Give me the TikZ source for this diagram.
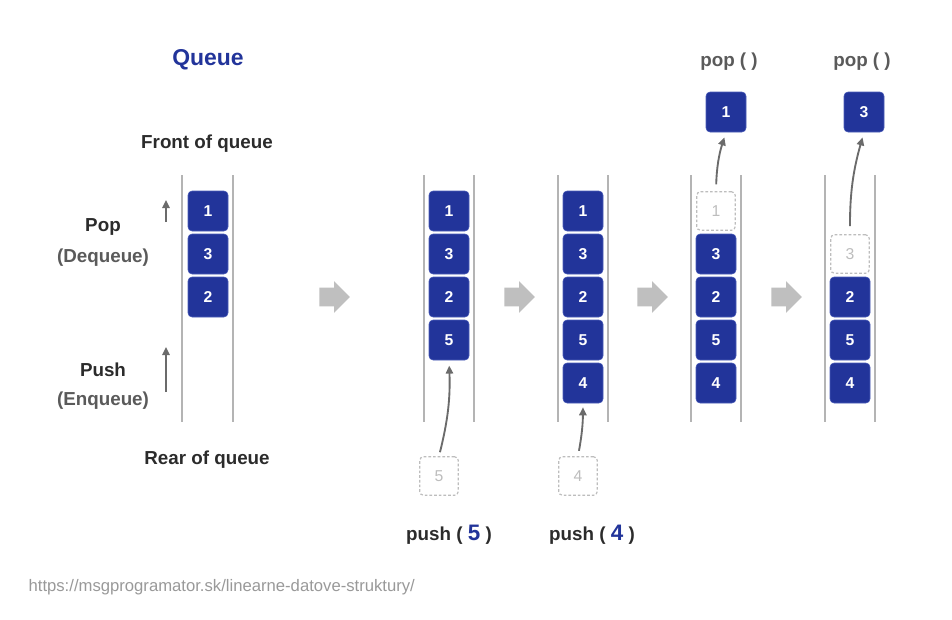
\documentclass[tikz,border=0pt]{standalone}
\usepackage{fontspec}
\setmainfont{Liberation Sans}
\usetikzlibrary{arrows.meta,shapes.arrows}
\definecolor{qblue}{HTML}{22349A}
\definecolor{qedge}{HTML}{4A5CB8}
\definecolor{qtext}{HTML}{2B2B2B}
\definecolor{qgrey}{HTML}{5A5A5A}
\definecolor{qrail}{HTML}{B4B4B4}
\definecolor{qghost}{HTML}{BDBDBD}

\begin{document}
\begin{tikzpicture}[x=0.75pt, y=-0.75pt]
				\tikzstyle{every node}=[inner sep=1pt, align=center, font=\bfseries\fontsize{14.1}{16}\selectfont, text=qtext]
				\tikzstyle{item}=[draw=qedge, fill=qblue, rounded corners=3pt, minimum width=30pt, minimum height=30pt, text=white, font=\bfseries\fontsize{11.8}{13}\selectfont]
				\tikzstyle{ghost}=[draw=qghost, dash pattern=on 2pt off 1.5pt, line width=0.9pt, fill=white, rounded corners=3pt, minimum width=29pt, minimum height=29pt, text=qghost, font=\fontsize{11.8}{13}\selectfont]
				\tikzstyle{rail}=[draw=qrail, line width=1.3pt]
				\tikzstyle{move}=[draw=qgrey!90, line width=1.4pt, -{Triangle[length=6pt, width=5.5pt]}]
				\tikzstyle{next}=[single arrow, fill=qrail!85, minimum height=23pt, minimum width=0pt, inner xsep=0pt, inner ysep=6.75pt, single arrow head extend=5pt]
				\useasboundingbox (0,0) rectangle (952,619);
				% labels on the left
				\node (title) at (208,60) {\color{qblue}\fontsize{17.2}{19}\selectfont Queue};
				\node (front) at (207,144) {Front of queue};
				\node (rear) at (207,460) {Rear of queue};
				\node (pop) at (103,227) {Pop};
				\node (deq) at (103,258) {\color{qgrey}(Dequeue)};
				\node (push) at (103,370) {Push};
				\node (enq) at (103,401) {\color{qgrey}(Enqueue)};
				\coordinate (p0) at (166,222);
				\coordinate (p1) at (166,200);
				\coordinate (q0) at (166,392);
				\coordinate (q1) at (166,347);
				\draw [move] (p0) -- (p1);
				\draw [move] (q0) -- (q1);
				% rails
				\foreach \x in {182,233,424,474,558,608,691,741,825,875}
					\draw [rail] (\x,175) -- (\x,422);
				% first queue
				\node [item] (A1) at (208,211) {1};
				\node [item] (A3) at (208,254) {3};
				\node [item] (A2) at (208,297) {2};
				% push 5
				\node [item] (B1) at (449,211) {1};
				\node [item] (B3) at (449,254) {3};
				\node [item] (B2) at (449,297) {2};
				\node [item] (B5) at (449,340) {5};
				\node [ghost] (g5) at (439,476) {5};
				\draw [move, shorten <=3pt, shorten >=4pt] (g5.north) to[bend right=8] (B5.south);
				\node (push5) at (449,535) {push ( {\color{qblue}\fontsize{16.8}{18}\selectfont 5} )};
				% push 4
				\node [item] (C1) at (583,211) {1};
				\node [item] (C3) at (583,254) {3};
				\node [item] (C2) at (583,297) {2};
				\node [item] (C5) at (583,340) {5};
				\node [item] (C4) at (583,383) {4};
				\node [ghost] (g4) at (578,476) {4};
				\draw [move, shorten <=4pt, shorten >=3pt] (g4.north) to[bend right=5] (C4.south);
				\node (push4) at (592,535) {push ( {\color{qblue}\fontsize{16.8}{18}\selectfont 4} )};
				% pop 1
				\node [ghost] (D1) at (716,211) {1};
				\node [item] (D3) at (716,254) {3};
				\node [item] (D2) at (716,297) {2};
				\node [item] (D5) at (716,340) {5};
				\node [item] (D4) at (716,383) {4};
				\node [item] (o1) at (726,112) {1};
				\draw [move, shorten <=5pt, shorten >=4pt] (D1.north) to[bend left=8] (o1.south);
				\node (pop1) at (729,62) {\color{qgrey}pop ( )};
				% pop 3
				\node [ghost] (E3) at (850,254) {3};
				\node [item] (E2) at (850,297) {2};
				\node [item] (E5) at (850,340) {5};
				\node [item] (E4) at (850,383) {4};
				\node [item] (o3) at (864,112) {3};
				\draw [move, shorten <=6pt, shorten >=4pt] (E3.north) to[bend left=8] (o3.south);
				\node (pop3) at (862,62) {\color{qgrey}pop ( )};
				% steps between the queues
				\node [next] (s1) at (330,297) {};
				\node [next] (s2) at (515,297) {};
				\node [next] (s3) at (648,297) {};
				\node [next] (s4) at (782,297) {};
				% source
				\node [anchor=west, font=\fontsize{12.5}{14}\selectfont, text=qrail!85!black] (src) at (27,587) {https://msgprogramator.sk/linearne-datove-struktury/};
		\end{tikzpicture}
\end{document}
